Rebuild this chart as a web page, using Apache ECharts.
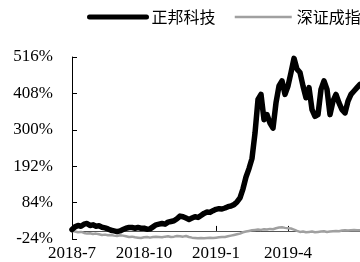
<!DOCTYPE html>
<html><head><meta charset="utf-8">
<script src="https://cdn.jsdelivr.net/npm/echarts@6/dist/echarts.min.js"></script>
<style>html,body{margin:0;padding:0;background:#fff;}#c{width:360px;height:262px;}</style>
</head><body><div id="c"></div>
<script>
// Months covered (8 sample points per month; last month has 1)
const months = ["2018-7","2018-8","2018-9","2018-10","2018-11","2018-12","2019-1","2019-2","2019-3","2019-4","2019-5","2019-6","2019-7"];
const tickLabels = ["2018-7","2018-10","2019-1","2019-4"];
const yTicks = [-24, 84, 192, 300, 408, 516];
const seriesNames = ["正邦科技", "深证成指"];
// cumulative return (%)
const zhengbang = [4,12,16,14,20,22,16,18, 14,15,11,9,6,2,0,-2, 0,4,8,10,10,8,10,8,
  8,5,6,12,18,20,22,20, 26,28,30,36,44,42,38,34, 38,42,40,46,52,56,55,60,
  64,66,65,68,72,74,78,86, 98,125,160,185,215,290,390,405, 330,345,320,305,380,430,445,405,
  430,470,512,480,470,430,395,425, 360,340,345,420,445,420,345,385, 405,380,360,350,385,405,415,425, 435];
const szIndex = [0,-2,-4,-3,-6,-8,-7,-9, -8,-10,-12,-11,-13,-12,-14,-15, -13,-14,-16,-18,-17,-19,-20,-21,
  -19,-18,-20,-18,-17,-18,-19,-17, -16,-18,-17,-15,-16,-17,-15,-18, -20,-21,-22,-21,-22,-21,-20,-21,
  -20,-19,-18,-18,-16,-14,-12,-10, -8,-4,-2,0,2,3,4,3, 5,4,6,5,8,10,11,9,
  8,7,4,0,-3,-2,-4,-3, -2,-4,-3,-2,-1,-3,-2,-1, 0,-1,1,2,1,2,3,2, 2];

const categories = [];
months.forEach((m, mi) => { const n = mi === months.length - 1 ? 1 : 8; for (let k = 1; k <= n; k++) categories.push(m + "/" + k); });
const isTick = (idx, val) => { const p = String(val).split("/"); return p[1] === "1" && tickLabels.indexOf(p[0]) >= 0; };

const chart = echarts.init(document.getElementById('c'));
chart.setOption({
  animation: false,
  legend: {
    left: 82, top: 4, width: 500, itemGap: 18, itemWidth: 57, itemHeight: 12,
    itemStyle: {color: 'rgba(0,0,0,0)', borderWidth: 0, opacity: 0},
    textStyle: {fontFamily: "Noto Sans CJK SC", fontSize: 16, color: '#000'},
    data: [
      {name: seriesNames[0], lineStyle: {width: 5, cap: 'round', color: '#000'}},
      {name: seriesNames[1], lineStyle: {width: 2.5, cap: 'butt', color: '#a0a0a0'}}
    ]
  },
  grid: {left: 72, right: 0, top: 57, bottom: 22, containLabel: false},
  xAxis: [
    {type: 'category', data: categories, boundaryGap: false, position: 'bottom',
     axisLine: {show: false, onZero: false}, axisTick: {show: false},
     axisLabel: {interval: isTick, formatter: v => v.split("/")[0], fontFamily: "Liberation Serif", fontSize: 17, color: '#000', margin: 6}},
    {type: 'category', data: categories, boundaryGap: false, position: 'bottom',
     axisLine: {show: true, onZero: true, lineStyle: {color: '#555', width: 1}},
     axisTick: {show: true, inside: true, length: 5, interval: isTick, lineStyle: {color: '#000'}},
     axisLabel: {show: false}}
  ],
  yAxis: {
    type: 'value', min: -24, max: 516,
    splitLine: {show: false},
    axisLine: {show: true, lineStyle: {color: '#000', width: 1}},
    axisTick: {show: true, inside: true, length: 5, customValues: yTicks, lineStyle: {color: '#000'}},
    axisLabel: {customValues: yTicks, formatter: v => v + "%", fontFamily: "Liberation Serif", fontSize: 17, color: '#000', margin: 19}
  },
  series: [
    {name: seriesNames[0], type: 'line', data: zhengbang, xAxisIndex: 0, symbol: 'none', z: 3,
     lineStyle: {color: '#000', width: 5.5, cap: 'round', join: 'round'}, itemStyle: {color: '#000'}},
    {name: seriesNames[1], type: 'line', data: szIndex, xAxisIndex: 0, symbol: 'none', z: 2,
     lineStyle: {color: '#a0a0a0', width: 2.5, cap: 'round', join: 'round'}, itemStyle: {color: '#a0a0a0'}}
  ]
});
</script></body></html>
